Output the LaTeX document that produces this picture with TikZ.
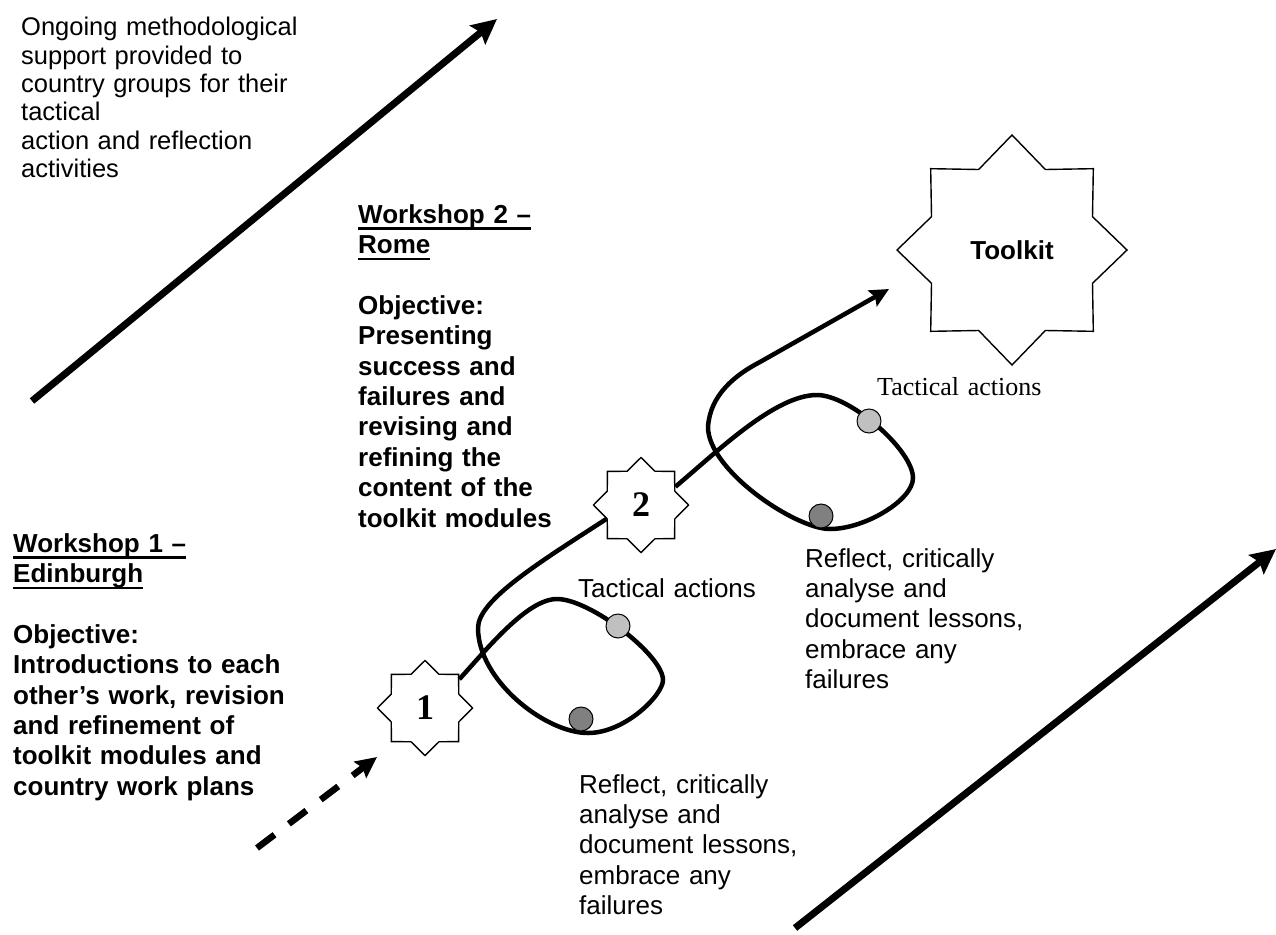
\documentclass[tikz,border=0pt]{standalone}
\usepackage{fontspec}
\setmainfont{Liberation Sans}
\newfontfamily\tnr{Liberation Serif}
\usetikzlibrary{shapes.geometric,arrows.meta}
\definecolor{lightdot}{HTML}{C0C0C0}
\definecolor{darkdot}{HTML}{808080}
\newcommand\myul[1]{\leavevmode\setbox0=\hbox{#1}\rlap{\rule[-7pt]{\wd0}{2.6pt}}\box0}
\begin{document}
\begin{tikzpicture}[x=1pt,y=-1pt,
  txt/.style={anchor=base west, inner sep=0pt, align=left, text width=#1,
    font=\fontsize{26}{30.4}\selectfont},
  txt/.default=330pt,
  btxt/.style={txt=#1, font=\bfseries\fontsize{26}{30.4}\selectfont},
  btxt/.default=330pt,
  smallstar/.style={star, star points=8, star point ratio=1.3, minimum size=95pt,
    inner sep=0pt, draw, fill=white, line width=1.4pt,
    font=\tnr\bfseries\fontsize{36}{40}\selectfont},
  bigstar/.style={star, star points=8, star point ratio=1.32, minimum size=230pt,
    inner sep=0pt, draw, fill=white, line width=1.4pt,
    font=\bfseries\fontsize{26}{30}\selectfont},
  dot/.style={circle, draw, line width=1pt, minimum size=24pt, inner sep=0pt},
  bigarrow/.style={line width=7pt, -{Stealth[length=25pt,width=24pt,inset=4pt]}},
  dasharrow/.style={line width=6.5pt, dash pattern=on 22pt off 18pt,
    -{Stealth[length=21pt,width=20pt,inset=3pt]}},
  loopline/.style={line width=4.5pt, line join=round},
  looparrow/.style={line width=4.5pt, line join=round,
    -{Stealth[length=19pt,width=18pt,inset=3pt]}}
]
\useasboundingbox (0,0) rectangle (1276,934);

% texts
\node[txt=320pt, font=\fontsize{25.5}{28.3}\selectfont] (tsupport) at (21,36)
  {Ongoing methodological\\support provided to\\country groups for their\\tactical\\action and reflection\\activities};
\node[btxt] (tws2) at (358,223)
  {\myul{Workshop 2 –}\\\myul{Rome}\\[30.4pt]Objective:\\Presenting\\success and\\failures and\\revising and\\refining the\\content of the\\toolkit modules};
\node[btxt] (tws1) at (13,552)
  {\myul{Workshop 1 –}\\\myul{Edinburgh}\\[30.4pt]Objective:\\Introductions to each\\other’s work, revision\\and refinement of\\toolkit modules and\\country work plans};
\node[txt] (ttac1) at (578,597) {Tactical actions};
\node[txt, font=\tnr\fontsize{26}{30}\selectfont] (ttac2) at (877,395) {Tactical actions};
\node[txt] (tref1) at (579,793)
  {Reflect, critically\\analyse and\\document lessons,\\embrace any\\failures};
\node[txt] (tref2) at (805,567)
  {Reflect, critically\\analyse and\\document lessons,\\embrace any\\failures};

% stars
\node[smallstar] (s1) at (425,708) {1};
\node[smallstar] (s2) at (641,505) {2};
\node[bigstar] (tk) at (1012,250) {Toolkit};

% free ends
\coordinate (a1s) at (32,401);
\coordinate (a1e) at (497,19);
\coordinate (a2s) at (795,928);
\coordinate (a2e) at (1276,549);
\coordinate (ds) at (257,848);
\coordinate (de) at (377,757);
\coordinate (lend) at (889,289);

% big arrows
\draw[bigarrow] (a1s) -- (a1e);
\draw[bigarrow] (a2s) -- (a2e);
\draw[dasharrow] (ds) -- (de);

% loop 1 : star 1 to star 2
\draw[loopline] (s1.40)
  .. controls (487,649) and (527,599) .. (557,599)
  .. controls (590,599) and (663,655) .. (663,680)
  .. controls (663,695) and (625,733) .. (588,733)
  .. controls (545,733) and (478,680) .. (478,628)
  .. controls (478,600) and (540,562) .. (s2.202);

% loop 2 : star 2 to the toolkit
\draw[looparrow] (s2.28)
  .. controls (718,451) and (775,395) .. (817,395)
  .. controls (850,395) and (913,450) .. (913,478)
  .. controls (913,500) and (865,529) .. (830,529)
  .. controls (795,529) and (708,470) .. (708,427)
  .. controls (710,395) and (735,375) .. (760,362)
  -- (lend);

% dots
\node[dot, fill=lightdot] (d1a) at (618,626) {};
\node[dot, fill=darkdot] (d1b) at (581,719) {};
\node[dot, fill=lightdot] (d2a) at (869,421) {};
\node[dot, fill=darkdot] (d2b) at (821,516) {};
\end{tikzpicture}
\end{document}
